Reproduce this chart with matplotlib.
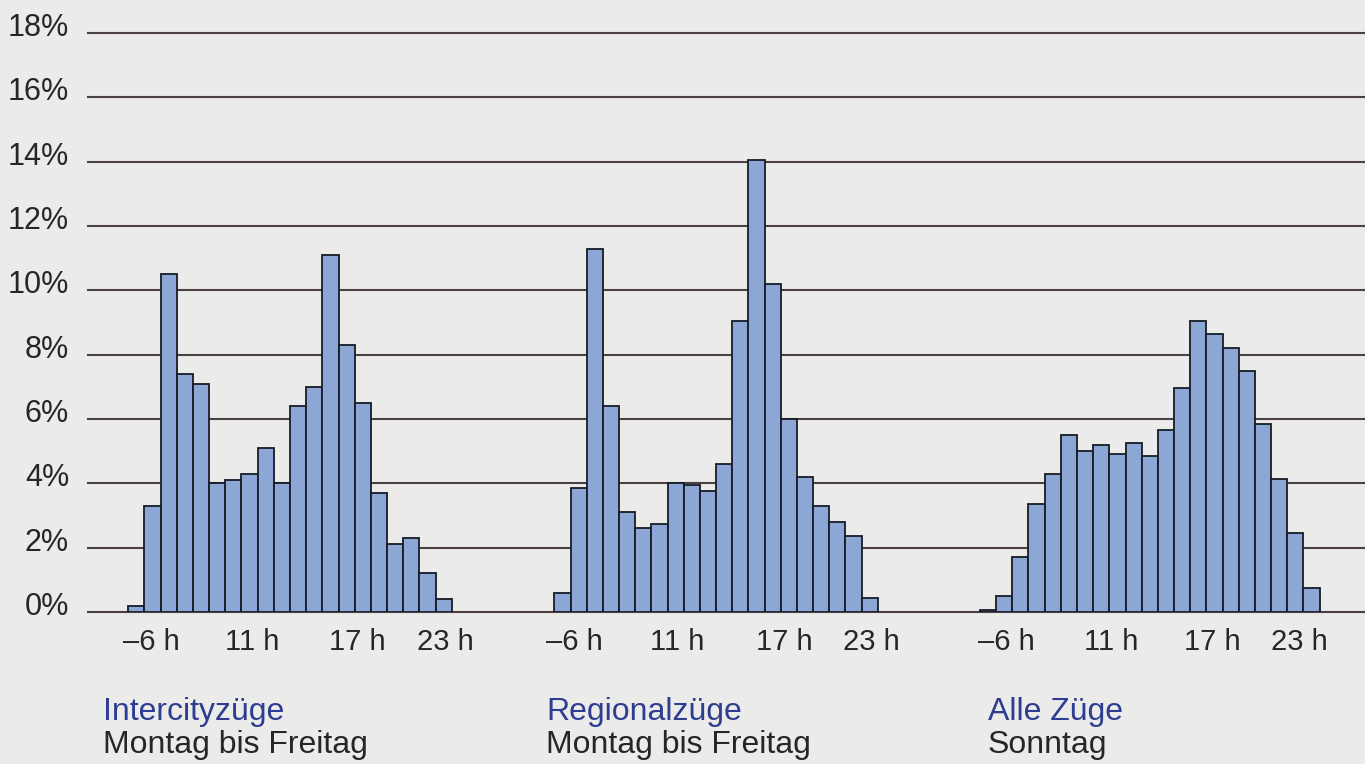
import matplotlib
matplotlib.use("Agg")
import matplotlib.pyplot as plt
from matplotlib.transforms import blended_transform_factory, ScaledTranslation

# ---- data (percent of daily travellers per hour) ----
intercity = [0.2, 3.3, 10.5, 7.4, 7.1, 4.0, 4.1, 4.3, 5.1, 4.0,
             6.4, 7.0, 11.1, 8.3, 6.5, 3.7, 2.1, 2.3, 1.2, 0.4]
regional = [0.6, 3.85, 11.3, 6.4, 3.1, 2.6, 2.75, 4.0, 3.96, 3.75,
            4.6, 9.05, 14.05, 10.2, 6.0, 4.2, 3.3, 2.8, 2.35, 0.45]
sunday = [0.07, 0.5, 1.7, 3.35, 4.3, 5.5, 5.0, 5.2, 4.9, 5.25, 4.85,
          5.65, 6.95, 9.05, 8.65, 8.2, 7.5, 5.85, 4.15, 2.45, 0.75]
series = [intercity, regional, sunday]

hour_labels = ["\u20136 h", "11 h", "17 h", "23 h"]
titles = ["Intercityz\u00fcge", "Regionalz\u00fcge", "Alle Z\u00fcge"]
subtitles = ["Montag bis Freitag", "Montag bis Freitag", "Sonntag"]
y_ticks = [0, 2, 4, 6, 8, 10, 12, 14, 16, 18]

# ---- layout ----
group_offsets = [0.0, 26.35, 52.67]
label_positions = [[1.45, 7.68, 14.17, 19.58],
                   [1.22, 7.62, 14.20, 19.63],
                   [1.65, 8.10, 14.35, 19.76]]
title_x = [103, 546, 988]

BG = "#ebebea"
BAR = "#8ca6d5"
EDGE = "#161c26"
GRID = "#4a4046"
BLUE = "#2e3d91"
TXT = "#262626"
FONT = "Liberation Sans"

W, H = 1365, 764
fig = plt.figure(figsize=(W / 100, H / 100), dpi=100, facecolor=BG)
ax = fig.add_axes([88 / W, 1 - 612 / H, 1 - 88 / W, (612 - 33) / H])
ax.set_facecolor(BG)
ax.set_xlim((88 - 128.3) / 16.17, (1365 - 128.3) / 16.17)
ax.set_ylim(0, 18)
for s in ax.spines.values():
    s.set_visible(False)
ax.set_xticks([])
ax.set_yticks([])

for v in y_ticks:
    ax.axhline(v, color=GRID, lw=1.5, clip_on=False, zorder=1)

ytrans = blended_transform_factory(ax.transAxes, ax.transData)
for v in y_ticks:
    ax.text(-19 / (W - 88), v, f"{v}%",
            transform=ytrans + ScaledTranslation(0, -3 / 100, fig.dpi_scale_trans),
            ha="right", va="baseline", fontsize=22, color=TXT, family=FONT)

xtrans = blended_transform_factory(ax.transData, ax.transAxes)
for g, vals in enumerate(series):
    x0 = group_offsets[g]
    xs = [x0 + i for i in range(len(vals))]
    ax.bar(xs, vals, width=1.0, align="edge", color=BAR, edgecolor=EDGE,
           linewidth=1.3, zorder=3)
    for p, lab in zip(label_positions[g], hour_labels):
        ax.text(x0 + p, 0, lab, transform=xtrans + ScaledTranslation(0, -38 / 100, fig.dpi_scale_trans),
                ha="center", va="baseline", fontsize=21, color=TXT, family=FONT)
    fig.text(title_x[g] / W, 1 - 720 / H, titles[g], ha="left", va="baseline",
             fontsize=23, color=BLUE, family=FONT)
    fig.text(title_x[g] / W, 1 - 753 / H, subtitles[g], ha="left", va="baseline",
             fontsize=23, color=TXT, family=FONT)

fig.savefig("out.png", dpi=100, facecolor=BG)
